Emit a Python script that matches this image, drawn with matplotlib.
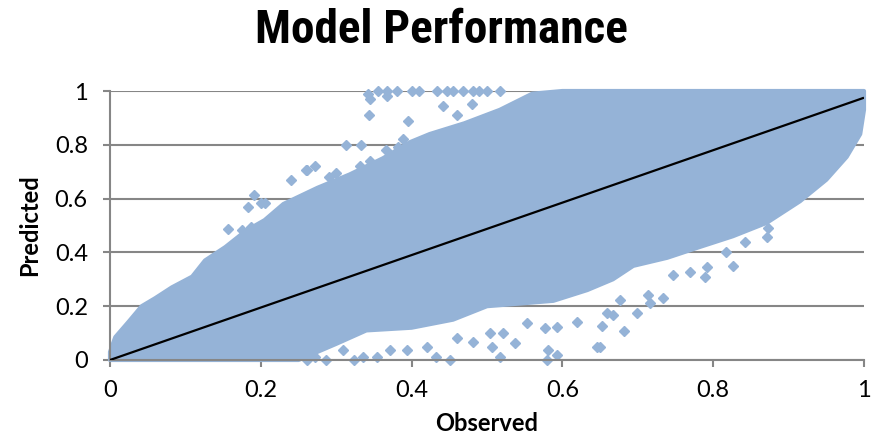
import matplotlib
matplotlib.use("Agg")
import matplotlib.pyplot as plt
import numpy as np

# ---- data ----
# dense cloud envelope: upper edge
upper_x = [0.0, 0.007, 0.024, 0.042, 0.06, 0.082, 0.109, 0.126, 0.153, 0.18, 0.205,
           0.23, 0.275, 0.318, 0.362, 0.398, 0.424, 0.47, 0.517, 0.56, 0.6, 0.8, 1.0]
upper_y = [0.03, 0.085, 0.14, 0.2, 0.23, 0.27, 0.31, 0.37, 0.42, 0.48, 0.52,
           0.58, 0.64, 0.69, 0.75, 0.81, 0.84, 0.88, 0.93, 0.99, 1.0, 1.0, 1.0]
# dense cloud envelope: lower edge
lower_x = [0.0, 0.25, 0.3, 0.34, 0.40, 0.455, 0.5, 0.544, 0.588, 0.633, 0.667, 0.694,
           0.739, 0.782, 0.826, 0.871, 0.915, 0.95, 0.977, 0.995, 1.0]
lower_y = [0.0, 0.0, 0.06, 0.11, 0.12, 0.15, 0.2, 0.21, 0.22, 0.26, 0.3, 0.35,
           0.38, 0.42, 0.46, 0.51, 0.59, 0.67, 0.755, 0.84, 0.93]

# scattered points outside the dense cloud
out_x = [0.342, 0.345, 0.343, 0.355, 0.367, 0.367, 0.38, 0.395, 0.40, 0.41, 0.434, 0.442,
         0.447, 0.455, 0.468, 0.481, 0.49, 0.50, 0.517, 0.48, 0.46, 0.313, 0.333, 0.261,
         0.272, 0.366, 0.382, 0.345, 0.30, 0.332, 0.191, 0.183, 0.20, 0.157, 0.175, 0.187,
         0.205, 0.24, 0.26, 0.389, 0.29,
         0.261, 0.272, 0.287, 0.309, 0.323, 0.335, 0.354, 0.371, 0.394, 0.42, 0.433, 0.451,
         0.46, 0.481, 0.517, 0.537, 0.553, 0.577, 0.58, 0.581, 0.593, 0.593, 0.619, 0.646,
         0.506, 0.521, 0.504, 0.676, 0.699, 0.714, 0.716, 0.733, 0.682, 0.652, 0.659, 0.667,
         0.747, 0.769, 0.789, 0.792, 0.826, 0.817, 0.65, 0.871, 0.873, 0.842]
out_y = [0.99, 0.97, 0.91, 1.0, 1.0, 0.98, 1.0, 0.89, 1.0, 1.0, 1.0, 0.945,
         1.0, 1.0, 1.0, 1.0, 1.0, 1.0, 1.0, 0.95, 0.91, 0.80, 0.80, 0.706,
         0.72, 0.78, 0.79, 0.74, 0.695, 0.72, 0.615, 0.57, 0.585, 0.487, 0.483, 0.494,
         0.585, 0.67, 0.705, 0.82, 0.68,
         0.0, 0.011, 0.0, 0.037, 0.0, 0.011, 0.011, 0.037, 0.037, 0.048, 0.011, 0.0,
         0.082, 0.067, 0.011, 0.063, 0.138, 0.119, 0.0, 0.037, 0.019, 0.123, 0.141, 0.048,
         0.048, 0.10, 0.10, 0.223, 0.175, 0.242, 0.212, 0.23, 0.108, 0.126, 0.175, 0.167,
         0.316, 0.327, 0.31, 0.347, 0.35, 0.40, 0.048, 0.457, 0.49, 0.44]

# trend line end points
line_x = [0.0, 1.0]
line_y = [0.0, 0.975]

xticks = [0, 0.2, 0.4, 0.6, 0.8, 1]
yticks = [0, 0.2, 0.4, 0.6, 0.8, 1]
tick_labels = ["0", "0.2", "0.4", "0.6", "0.8", "1"]

# ---- fonts ----
title_font = ["Liberation Sans Narrow", "Roboto Condensed", "IBM Plex Sans Condensed", "Liberation Sans"]
text_font = "Lato"

blue = "#95B3D7"
grey = "#868686"

fig = plt.figure(figsize=(8.82, 4.38), dpi=100)
ax = fig.add_axes([110 / 882, 78 / 438, 754 / 882, 269 / 438])

poly_x = np.concatenate([upper_x, lower_x[::-1]])
poly_y = np.concatenate([upper_y, lower_y[::-1]])
ax.fill(poly_x, poly_y, color=blue, lw=3, ec=blue, zorder=2, clip_on=False, joinstyle="round")
ax.plot(out_x, out_y, ls="none", marker="D", ms=4.6, color=blue, mec=blue, zorder=2, clip_on=False)
ax.plot(line_x, line_y, color="black", lw=1.6, zorder=3, solid_capstyle="butt")

ax.set_xlim(0, 1)
ax.set_ylim(0, 1)
ax.set_xticks(xticks)
ax.set_yticks(yticks)
ax.set_xticklabels(tick_labels, fontfamily=text_font, fontsize=17)
ax.set_yticklabels(tick_labels, fontfamily=text_font, fontsize=17)
ax.yaxis.grid(True, color=grey, lw=1.5, zorder=1)
ax.set_axisbelow(True)
for s in ["top", "right"]:
    ax.spines[s].set_visible(False)
for s in ["left", "bottom"]:
    ax.spines[s].set_color(grey)
    ax.spines[s].set_linewidth(1.5)
ax.tick_params(axis="y", length=5, width=1.5, color=grey, pad=11, labelcolor="black")
ax.tick_params(axis="x", length=5, width=1.5, color=grey, pad=9.5, labelcolor="black")

ax.set_xlabel("Observed", fontfamily=text_font, fontweight="bold", fontsize=17, labelpad=8)
ax.set_ylabel("Predicted", fontfamily=text_font, fontweight="bold", fontsize=17, labelpad=10)
fig.text(0.5, 0.932, "Model Performance", ha="center", va="center",
         fontfamily=title_font, fontweight="bold", fontsize=34)

fig.savefig("out.png", dpi=100)
